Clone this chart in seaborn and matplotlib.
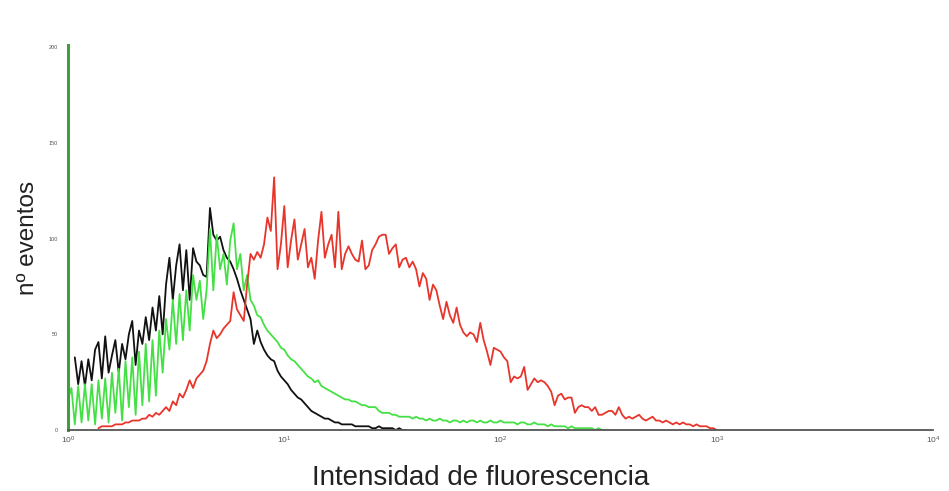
import numpy as np
import pandas as pd
import matplotlib
matplotlib.use("Agg")
import matplotlib.pyplot as plt
import seaborn as sns

# %%
# histogram counts per channel (256 channels over 4 log decades)
black_start = 2
black_counts = [
    38, 24, 36, 23, 37, 26, 42, 46, 27,
    49, 30, 39, 47, 30, 45, 37, 50, 57, 34,
    52, 45, 59, 47, 64, 52, 70, 50, 76, 90,
    68, 86, 97, 73, 94, 68, 95, 88, 86, 81,
    80, 116, 102, 99, 101, 94, 90, 88, 84, 79,
    73, 68, 63, 58, 45, 52, 46, 42, 39, 37,
    36, 31, 28, 26, 24, 21, 19, 17, 16, 14,
    12, 10, 9, 8, 7, 6, 6, 5, 4, 4,
    3, 3, 3, 3, 2, 2, 2, 2, 2, 1,
    1, 2, 1, 1, 1, 1, 0, 1, 0, 0,
]

green_start = 0
green_counts = [
    16, 22, 3, 23, 4, 24, 5, 24, 3, 26, 6,
    27, 4, 30, 9, 32, 5, 36, 12, 38, 8,
    41, 13, 45, 15, 47, 18, 52, 30, 58, 42,
    68, 45, 71, 47, 73, 52, 81, 68, 78, 58,
    73, 105, 73, 102, 84, 92, 76, 99, 108, 84,
    92, 73, 81, 68, 65, 60, 59, 55, 52, 50,
    48, 46, 43, 42, 39, 37, 36, 34, 32, 30,
    28, 27, 25, 26, 23, 22, 21, 20, 19, 18,
    17, 16, 16, 15, 15, 14, 13, 13, 12, 12,
    12, 10, 9, 9, 9, 8, 8, 7, 7, 7,
    7, 6, 7, 6, 6, 5, 6, 5, 5, 6,
    5, 5, 4, 5, 5, 4, 5, 4, 5, 5, 4, 5, 4, 4, 5, 4, 4, 5, 4, 4,
    4, 4, 3, 4, 4, 3, 3, 4, 3, 3, 3, 2, 3, 2, 2,
    2, 2, 1, 2, 1, 1, 1, 1, 1, 1, 0, 1, 0, 0, 0,
]

red_start = 9
red_counts = [
    1, 2,
    2, 2, 2, 3, 3, 3, 4, 4, 5, 5,
    5, 6, 6, 8, 7, 9, 8, 10, 12, 10,
    15, 13, 19, 17, 21, 26, 22, 27, 29, 31,
    36, 45, 52, 48, 50, 53, 55, 57, 72, 63,
    60, 57, 76, 92, 89, 93, 90, 97, 111, 104,
    132, 84, 97, 117, 85, 99, 110, 89, 97, 105,
    85, 90, 79, 99, 114, 90, 97, 102, 85, 114,
    84, 92, 96, 92, 89, 88, 99, 84, 86, 94,
    97, 101, 102, 102, 92, 95, 97, 85, 89, 90,
    85, 88, 84, 75, 82, 79, 68, 76, 73, 65,
    58, 67, 60, 56, 64, 55, 51, 49, 51, 50,
    46, 56, 47, 41, 34, 43, 42, 41, 38, 36,
    25, 28, 27, 28, 33, 21, 24, 27, 25, 26,
    25, 23, 20, 13, 18, 19, 16, 17, 17, 9,
    12, 13, 12, 12, 10, 12, 8, 8, 9, 10,
    10, 8, 12, 8, 6, 7, 6, 7, 8, 6,
    5, 6, 7, 5, 5, 4, 5, 4, 3, 4,
    3, 4, 3, 3, 2, 3, 2, 2, 2, 1, 1, 0,
]

series = [
    ("control", black_start, black_counts),
    ("isotipo", green_start, green_counts),
    ("marcado", red_start, red_counts),
]
palette = {"control": "#111111", "isotipo": "#45e045", "marcado": "#e8352b"}

frames = []
for name, start, counts in series:
    ch = np.arange(start, start + len(counts))
    frames.append(pd.DataFrame({
        "canal": ch,
        "intensidad": 10 ** (ch / 64),
        "eventos": counts,
        "muestra": name,
    }))
df = pd.concat(frames, ignore_index=True)

# %%
sns.set_style("white")
plt.rcParams["font.family"] = ["Liberation Sans", "DejaVu Sans"]

fig = plt.figure(figsize=(9.49, 4.91), dpi=100)
ax = fig.add_axes([0.0717, 0.124, 0.9115, 0.784])

sns.lineplot(
    data=df,
    x="intensidad",
    y="eventos",
    hue="muestra",
    palette=palette,
    estimator=None,
    linewidth=1.3,
    legend=False,
    ax=ax,
)

ax.set_xscale("log")
ax.set_xlim(1, 1e4)
ax.set_ylim(0, 201)
ax.set_yticks([0, 50, 100, 150, 200])

sns.despine(ax=ax)
ax.spines["left"].set_color("#3f9f3f")
ax.spines["left"].set_linewidth(2.2)
ax.spines["bottom"].set_color("#555555")
ax.spines["bottom"].set_linewidth(1.3)

ax.tick_params(axis="x", which="major", direction="inout", length=5, width=1,
               color="#555555", labelsize=6, labelcolor="#555555", pad=1)
ax.tick_params(axis="x", which="minor", direction="inout", length=3, width=0.8,
               color="#555555")
ax.tick_params(axis="y", which="major", direction="out", length=3, width=1.5,
               color="#333333", labelsize=4, labelcolor="#555555", pad=4)

ax.set_xlabel("Intensidad de fluorescencia", fontsize=20, color="#222222")
ax.set_ylabel("nº eventos", fontsize=17.5, color="#222222")
ax.xaxis.set_label_coords(0.477, -0.09)
ax.yaxis.set_label_coords(-0.033, 0.5)

plt.savefig("out.png", dpi=100)
plt.close()
